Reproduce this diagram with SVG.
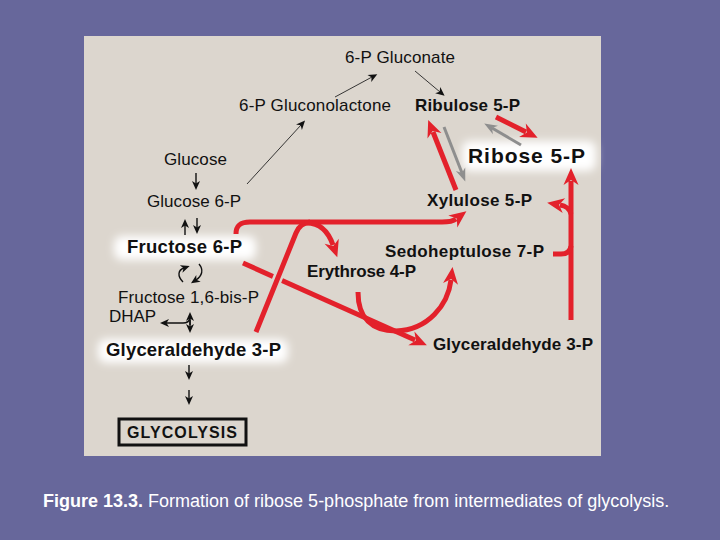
<svg xmlns="http://www.w3.org/2000/svg" width="720" height="540" viewBox="0 0 720 540">
<defs>
<style>
.t{font-family:"Liberation Sans",Arial,sans-serif;fill:#111;font-size:17px}
.b{font-weight:bold}
.red{fill:none;stroke:#E3212B;stroke-width:5;stroke-linecap:butt}
.gray{fill:none;stroke:#8E8E8E;stroke-width:3}
.blk{fill:none;stroke:#111;stroke-width:1.4}
.thin{fill:none;stroke:#222;stroke-width:0.9}
.cap{font-family:"Liberation Sans",Arial,sans-serif;fill:#fff;font-size:18px}
</style>
<marker id="ar" markerUnits="userSpaceOnUse" markerWidth="24" markerHeight="24" viewBox="-2 -12 24 24" refX="3" refY="0" orient="auto">
<path d="M16,0 L-1,-7.5 L4,0 L-1,7.5 Z" fill="#E3212B"/>
</marker>
<marker id="ag" markerUnits="userSpaceOnUse" markerWidth="20" markerHeight="20" viewBox="-2 -10 20 20" refX="3" refY="0" orient="auto">
<path d="M12,0 L-1,-5 L3,0 L-1,5 Z" fill="#8E8E8E"/>
</marker>
<marker id="ab" markerUnits="userSpaceOnUse" markerWidth="12" markerHeight="12" viewBox="-2 -6 12 12" refX="2" refY="0" orient="auto">
<path d="M8,0 L-1,-4 L1.5,0 L-1,4 Z" fill="#111"/>
</marker>
<filter id="glow" x="-20%" y="-60%" width="140%" height="220%">
<feGaussianBlur stdDeviation="4"/>
</filter>
</defs>
<rect x="0" y="0" width="720" height="540" fill="#67679B"/>
<rect x="84" y="36" width="517" height="420" fill="#DCD6CE"/>

<g id="glows" fill="#fff" filter="url(#glow)">
<rect x="462" y="141" width="134" height="30" rx="8"/>
<rect x="114" y="236" width="142" height="24" rx="8"/>
<rect x="98" y="339" width="190" height="24" rx="8"/>
</g>

<g id="connectors">
<!-- thin black -->
<path class="thin" d="M247,184 L301,125" marker-end="url(#ab)"/>
<path class="thin" d="M335,97 L372,77" marker-end="url(#ab)"/>
<path class="thin" d="M415,71 L440,92" marker-end="url(#ab)"/>
<path class="blk" d="M196,173 L196,184" marker-end="url(#ab)"/>
<path class="blk" d="M185,235 L185,225" marker-end="url(#ab)"/>
<path class="blk" d="M197,218 L197,228" marker-end="url(#ab)"/>
<path class="blk" d="M183,282 C177,276 178,270 184,268" marker-end="url(#ab)"/>
<path class="blk" d="M199,264 C204,270 202,276 196,280" marker-end="url(#ab)"/>
<path class="blk" d="M190,325 L190,318" marker-end="url(#ab)"/>
<path class="blk" d="M190,320 L190,327" marker-end="url(#ab)"/>
<path class="blk" d="M190,318 Q189,323 183,323 L166,323" marker-end="url(#ab)"/>
<path class="blk" d="M189,365 L189,374" marker-end="url(#ab)"/>
<path class="blk" d="M189,390 L189,399" marker-end="url(#ab)"/>
<!-- red -->
<path class="red" d="M243,263 L415,340" marker-end="url(#ar)"/>
<path d="M262,317 L289,250" fill="none" stroke="#DCD6CE" stroke-width="10"/>
<path class="red" d="M256,332 L296,233 Q300,223 310,222"/>
<path class="red" d="M236,234 C236,226 240,222 250,222 L442,222 Q452,222 456,219" marker-end="url(#ar)"/>
<path class="red" d="M305,223 Q325,222 333,245" marker-end="url(#ar)"/>
<path class="red" d="M358,292 C358,318 372,331 396,331 C428,330 448,305 451,280" marker-end="url(#ar)"/>
<path class="red" d="M571,320 L571,181" marker-end="url(#ar)"/>
<path class="red" d="M571,214 C569,208 566,206 560,205" marker-end="url(#ar)"/>
<path class="red" d="M553,254 L561,254 Q570,254 571,246"/>
<path class="gray" d="M444,127 L462,173" marker-end="url(#ag)"/>
<path class="red" d="M456,190 L433,132" marker-end="url(#ar)"/>
<path class="gray" d="M521,145 L492,128" marker-end="url(#ag)"/>
<path class="red" d="M496,117 L526,132" marker-end="url(#ar)"/>
</g>

<g id="n-gluconate"><text class="t" x="345" y="63" textLength="110">6-P Gluconate</text></g>
<g id="n-gluconolactone"><text class="t" x="239" y="111" textLength="152">6-P Gluconolactone</text></g>
<g id="n-ribulose"><text class="t b" x="415" y="111" textLength="105">Ribulose 5-P</text></g>
<g id="n-ribose"><text class="t b" x="468" y="163" style="font-size:21px" textLength="117">Ribose 5-P</text></g>
<g id="n-glucose"><text class="t" x="164" y="165" textLength="63">Glucose</text></g>
<g id="n-glucose6p"><text class="t" x="147" y="207" textLength="94">Glucose 6-P</text></g>
<g id="n-fructose6p"><text class="t b" x="127" y="253" style="font-size:18.5px" textLength="115">Fructose 6-P</text></g>
<g id="n-fructose16bp"><text class="t" x="118" y="303" textLength="141">Fructose 1,6-bis-P</text></g>
<g id="n-dhap"><text class="t" x="109" y="322" textLength="47">DHAP</text></g>
<g id="n-gap-left"><text class="t b" x="106" y="356" style="font-size:18.5px" textLength="175">Glyceraldehyde 3-P</text></g>
<g id="n-glycolysis">
<rect x="119" y="419" width="127" height="26" fill="none" stroke="#111" stroke-width="3"/>
<text class="t b" x="127" y="438" style="font-size:16px" textLength="110">GLYCOLYSIS</text>
</g>
<g id="n-xylulose"><text class="t b" x="427" y="206" textLength="105">Xylulose 5-P</text></g>
<g id="n-sedoheptulose"><text class="t b" x="385" y="257" textLength="159">Sedoheptulose 7-P</text></g>
<g id="n-erythrose"><text class="t b" x="307" y="277" textLength="109">Erythrose 4-P</text></g>
<g id="n-gap-right"><text class="t b" x="433" y="350" textLength="160">Glyceraldehyde 3-P</text></g>

<g id="caption"><text class="cap" x="43" y="507"><tspan font-weight="bold">Figure 13.3.</tspan> Formation of ribose 5-phosphate from intermediates of glycolysis.</text></g>
</svg>
